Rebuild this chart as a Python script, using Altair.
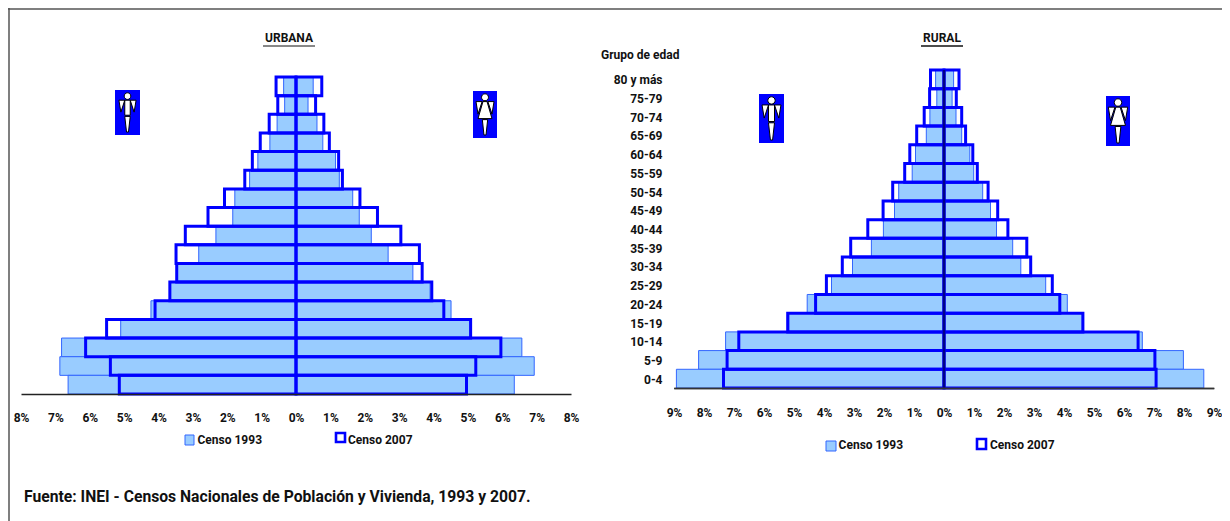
import altair as alt
import pandas as pd

ages = ["80 y más","75-79","70-74","65-69","60-64","55-59","50-54","45-49","40-44",
        "35-39","30-34","25-29","20-24","15-19","10-14","5-9","0-4"]

u93_h = [0.36,0.33,0.55,0.76,1.11,1.35,1.78,1.84,2.33,2.83,3.45,3.65,4.22,5.10,6.82,6.87,6.63]
u93_m = [0.50,0.35,0.61,0.78,1.15,1.26,1.65,1.84,2.19,2.68,3.40,3.90,4.51,5.07,6.57,6.93,6.35]
u07_h = [0.58,0.53,0.78,1.04,1.27,1.49,2.08,2.56,3.22,3.49,3.47,3.67,4.10,5.51,6.12,5.40,5.14]
u07_m = [0.75,0.57,0.81,0.97,1.24,1.35,1.86,2.37,3.05,3.59,3.67,3.95,4.30,5.08,5.96,5.23,4.96]

r93_h = [0.28,0.24,0.47,0.59,0.95,1.06,1.51,1.65,2.02,2.42,3.05,3.75,4.56,5.17,7.28,8.18,8.92]
r93_m = [0.32,0.27,0.40,0.59,0.86,0.99,1.29,1.55,1.75,2.29,2.56,3.39,4.11,4.61,6.61,7.98,8.66]
r07_h = [0.45,0.48,0.66,0.91,1.14,1.31,1.71,2.03,2.54,3.11,3.39,3.92,4.28,5.21,6.84,7.23,7.35]
r07_m = [0.50,0.41,0.59,0.72,0.96,1.11,1.47,1.79,2.13,2.76,2.89,3.61,3.86,4.63,6.47,7.03,7.07]

FONT = "Roboto"
W, H = 1214, 513


def frame(men, women):
    return pd.DataFrame({"age": ages * 2, "v": [-x for x in men] + list(women)})


def x_enc(limit, rng, axis):
    return alt.X("v:Q", stack=None, title=None,
                 scale=alt.Scale(domain=[-limit, limit], range=rng, nice=False, zero=False),
                 axis=axis)


def y_enc(rng, axis=None):
    return alt.Y("age:N", sort=None, title=None,
                 scale=alt.Scale(domain=ages, range=rng, paddingInner=0, paddingOuter=0),
                 axis=axis)


def x_axis(limit, off, pad, dom):
    return alt.Axis(orient="bottom", offset=off, values=list(range(-limit, limit + 1)), grid=False,
                    ticks=False, labelPadding=pad, labelExpr="abs(datum.value) + '%'",
                    labelFont=FONT, labelFontSize=12, labelFontWeight="bold", labelColor="#111",
                    labelFlush=False, labelOverlap=False, domainColor=dom, domainWidth=1.5, zindex=1)


def pyramid(men93, wom93, men07, wom07, limit, xr, yr, off, pad, dom, y_axis=None):
    base93 = alt.Chart(frame(men93, wom93)).mark_bar(
        fill="#99CCFF", stroke="#3366FF", strokeWidth=1, opacity=1
    ).encode(x=x_enc(limit, xr, x_axis(limit, off, pad, dom)), y=y_enc(yr, y_axis))
    base07 = alt.Chart(frame(men07, wom07)).mark_bar(
        fill="transparent", stroke="#0000FF", strokeWidth=3
    ).encode(x=x_enc(limit, xr, None), y=y_enc(yr))
    return [base93, base07]


y_ax_r = alt.Axis(orient="left", offset=-654, domain=False, ticks=False, labelPadding=0, grid=False,
                  labelFont=FONT, labelFontSize=12, labelFontWeight="bold", labelColor="#111",
                  labelOverlap=False, labelFlush=False, labelOffset=1)

urban = pyramid(u93_h, u93_m, u07_h, u07_m, 8, [13, 563], [69, 386], -127, 18, "#222")
rural = pyramid(r93_h, r93_m, r07_h, r07_m, 9, [666, 1206], [62, 380], -133, 19, "#333", y_ax_r)
r_center = alt.Chart(pd.DataFrame({"v": [0]})).mark_rule(color="#00008B", strokeWidth=2.5).encode(
    x=x_enc(9, [666, 1206], None), y=alt.value(62), y2=alt.value(380))


def txt(s, x, y, size=12, align="left", weight="bold"):
    return alt.Chart(pd.DataFrame({"t": [s]})).mark_text(
        font=FONT, fontSize=size, fontWeight=weight, align=align, baseline="middle", color="#111"
    ).encode(x=alt.value(x - 8), y=alt.value(y - 8), text="t:N")


def box(x0, x1, y0, y1, **kw):
    return alt.Chart(pd.DataFrame({"a": [0]})).mark_rect(**kw).encode(
        x=alt.value(x0 - 8), x2=alt.value(x1 - 8), y=alt.value(y0 - 8), y2=alt.value(y1 - 8))


def line(x0, x1, y0, y1, color, width):
    return alt.Chart(pd.DataFrame({"a": [0]})).mark_rule(color=color, strokeWidth=width).encode(
        x=alt.value(x0 - 8), x2=alt.value(x1 - 8), y=alt.value(y0 - 8), y2=alt.value(y1 - 8))


HEAD = "M-.17,-.84a.17,.17 0 1,0 .34,0a.17,.17 0 1,0 -.34,0Z"
ARMS = "M-.44,-.63L-.14,-.63L-.34,-.02ZM.14,-.63L.44,-.63L.34,-.02Z"
MAN = HEAD + ARMS + "M-.14,-.63L.14,-.63L.14,.14L-.14,.14ZM-.14,.2L.14,.2L.05,1L-.05,1Z"
WOMAN = HEAD + ARMS + "M-.1,-.63L.1,-.63L.34,.2L-.34,.2ZM-.13,.25L.13,.25L.05,1L-.05,1Z"


def icon(x0, x1, y0, y1, path):
    figure = alt.Chart(pd.DataFrame({"a": [0]})).mark_point(
        shape=path, size=(y1 - y0 - 6) ** 2, filled=True, fill="white", stroke="black",
        strokeWidth=1, opacity=1
    ).encode(x=alt.value((x0 + x1) / 2 - 8), y=alt.value((y0 + y1) / 2 - 8))
    return [box(x0, x1, y0, y1, color="#0000FF"), figure]


extras = [
    line(8, 1222, 9, 9, "#555", 1.5),
    line(9, 9, 8, 521, "#555", 1.5),
    line(674, 1214, 388.5, 388.5, "#444", 1.5),
    txt("URBANA", 289, 38, align="center"), line(263, 315, 46, 46, "#111", 1),
    txt("RURAL", 942, 38, align="center"), line(921, 963, 46, 46, "#111", 1.5),
    txt("Grupo de edad", 601, 55, size=12),
    box(185, 194, 435, 445, fill="#99CCFF", stroke="#3366FF", strokeWidth=1),
    txt("Censo 1993", 197.5, 440),
    box(336, 345, 433, 442, fill="white", stroke="#0000FF", strokeWidth=2.6),
    txt("Censo 2007", 348, 440),
    box(826, 836, 441, 451, fill="#99CCFF", stroke="#3366FF", strokeWidth=1),
    txt("Censo 1993", 838.6, 445),
    box(977, 986, 439, 449, fill="white", stroke="#0000FF", strokeWidth=2.6),
    txt("Censo 2007", 990, 445),
    txt("Fuente: INEI - Censos Nacionales de Población y Vivienda, 1993 y 2007.", 24, 497, size=15.7),
]
extras += icon(115, 140, 90, 135, MAN) + icon(473, 497, 91, 138, WOMAN)
extras += icon(759, 784, 94, 143, MAN) + icon(1106, 1130, 96, 146, WOMAN)

chart = alt.layer(*urban, *rural, r_center, *extras).resolve_scale(x="independent", y="independent").properties(
    width=W, height=H, padding=0, background="white",
    autosize=alt.AutoSizeParams(type="none"),
).configure_view(stroke=None)

chart.save("out.html", embed_options={"renderer": "svg", "actions": False})
